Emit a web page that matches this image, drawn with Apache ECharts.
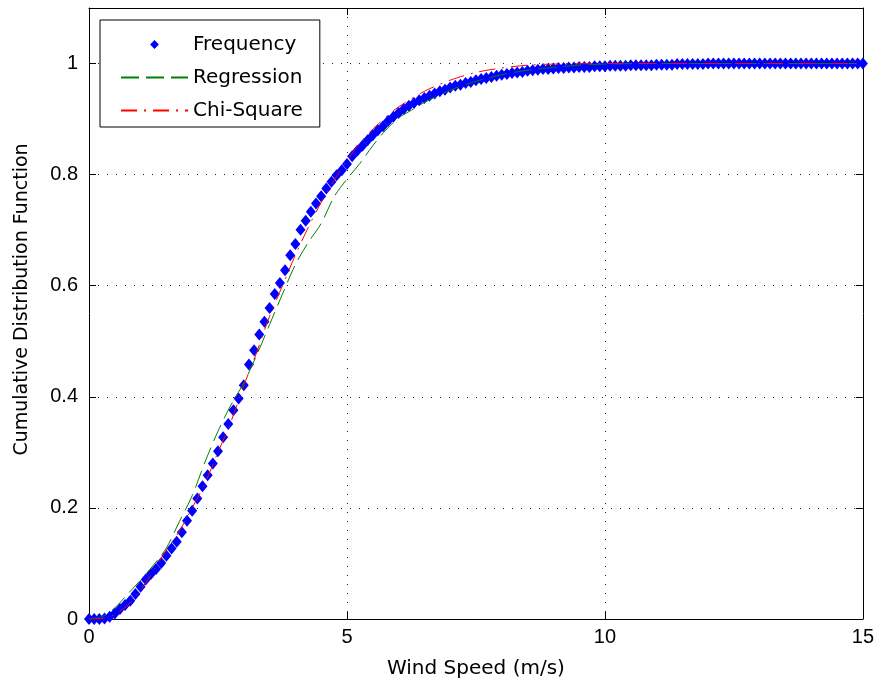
<!DOCTYPE html>
<html>
<head>
<meta charset="utf-8">
<script src="https://cdn.jsdelivr.net/npm/echarts@6/dist/echarts.min.js"></script>
<style>html,body{margin:0;padding:0;background:#fff;}#c{width:877px;height:686px;}</style>
</head>
<body>
<div id="c"></div>
<script>
// Frequency (empirical CDF) — wind speed (m/s)
const freqX = [
0.0,0.1,0.2,0.3,0.4,0.5,0.6,0.7,0.8,0.9,
1.0,1.1,1.2,1.3,1.4,1.5,1.6,1.7,1.8,1.9,
2.0,2.1,2.2,2.3,2.4,2.5,2.6,2.7,2.8,2.9,
3.0,3.1,3.2,3.3,3.4,3.5,3.6,3.7,3.8,3.9,
4.0,4.1,4.2,4.3,4.4,4.5,4.6,4.7,4.8,4.9,
5.0,5.1,5.2,5.3,5.4,5.5,5.6,5.7,5.8,5.9,
6.0,6.1,6.2,6.3,6.4,6.5,6.6,6.7,6.8,6.9,
7.0,7.1,7.2,7.3,7.4,7.5,7.6,7.7,7.8,7.9,
8.0,8.1,8.2,8.3,8.4,8.5,8.6,8.7,8.8,8.9,
9.0,9.1,9.2,9.3,9.4,9.5,9.6,9.7,9.8,9.9,
10.0,10.1,10.2,10.3,10.4,10.5,10.6,10.7,10.8,10.9,
11.0,11.1,11.2,11.3,11.4,11.5,11.6,11.7,11.8,11.9,
12.0,12.1,12.2,12.3,12.4,12.5,12.6,12.7,12.8,12.9,
13.0,13.1,13.2,13.3,13.4,13.5,13.6,13.7,13.8,13.9,
14.0,14.1,14.2,14.3,14.4,14.5,14.6,14.7,14.8,14.9,
15.0];
const freqY = [
0,0,0,0.001,0.004,0.010,0.018,0.025,0.033,0.045,
0.058,0.071,0.081,0.090,0.101,0.114,0.127,0.139,0.156,0.177,
0.195,0.217,0.239,0.259,0.280,0.302,0.327,0.351,0.376,0.397,
0.421,0.458,0.484,0.512,0.535,0.560,0.585,0.605,0.628,0.655,
0.675,0.701,0.717,0.733,0.748,0.761,0.775,0.787,0.799,0.808,
0.819,0.833,0.843,0.852,0.862,0.871,0.880,0.887,0.897,0.904,
0.911,0.918,0.924,0.929,0.934,0.938,0.942,0.946,0.950,0.953,
0.957,0.960,0.962,0.965,0.967,0.970,0.972,0.974,0.976,0.978,
0.980,0.981,0.983,0.984,0.985,0.987,0.988,0.989,0.990,0.990,
0.991,0.992,0.992,0.993,0.993,0.994,0.994,0.994,0.995,0.995,
0.995,0.996,0.996,0.996,0.996,0.997,0.997,0.997,0.997,0.997,
0.998,0.998,0.998,0.998,0.999,0.999,0.999,0.999,0.999,0.999,
1.0,1.0,1.0,1.0,1.0,1.0,1.0,1.0,1.0,1.0,
1.0,1.0,1.0,1.0,1.0,1.0,1.0,1.0,1.0,1.0,
1.0,1.0,1.0,1.0,1.0,1.0,1.0,1.0,1.0,1.0,
1.0];

// Regression fit (green dashed)
const regX = [0,0.25,0.5,0.75,1.0,1.25,1.5,1.75,2.0,2.25,2.5,2.75,3.0,3.25,3.5,3.75,4.0,4.25,4.5,4.75,5.0,5.25,5.5,5.75,6.0,6.25,6.5,7.0,7.5,8.0,8.5,9.0,9.5,10,11,12,13,14,15];
const regY = [0,0.004,0.020,0.045,0.070,0.097,0.128,0.175,0.222,0.283,0.338,0.385,0.425,0.475,0.530,0.585,0.638,0.678,0.712,0.760,0.792,0.820,0.852,0.880,0.902,0.916,0.930,0.952,0.968,0.980,0.988,0.993,0.997,0.999,1.0,1.0,1.0,1.0,1.0];

// Chi-Square fit (red dash-dot)
const chiX = [0,0.25,0.5,0.75,1.0,1.25,1.5,1.75,2.0,2.25,2.5,2.75,3.0,3.25,3.5,3.75,4.0,4.25,4.5,4.75,5.0,5.25,5.5,5.75,6.0,6.5,7.0,7.5,8.0,8.5,9.0,10,11,12,13,14,15];
const chiY = [0,0.001,0.008,0.025,0.052,0.087,0.124,0.158,0.200,0.245,0.300,0.355,0.420,0.480,0.545,0.600,0.655,0.705,0.750,0.790,0.825,0.857,0.882,0.903,0.922,0.950,0.970,0.984,0.992,0.997,0.999,1.0,1.0,1.0,1.0,1.0,1.0];

const xTicks = [0, 5, 10, 15];
const yTicks = [0, 0.2, 0.4, 0.6, 0.8, 1];

const FONT = 'DejaVu Sans';
const TICKFONT = 'Liberation Sans';
const zip = (a, b) => a.map((v, i) => [v, b[i]]);

const chart = echarts.init(document.getElementById('c'), null, {renderer: 'canvas'});
const dotted = {color: '#222', width: 1, type: [1, 8]};
const baseX = {
  type: 'value', min: xTicks[0], max: xTicks[xTicks.length - 1], interval: 5,
  axisLine: {show: true, onZero: false, lineStyle: {color: '#000', width: 1}},
  axisTick: {show: true, inside: true, length: 7, lineStyle: {color: '#000'}},
};
const baseY = {
  type: 'value', min: 0, max: 1.1, interval: 0.2,
  axisLine: {show: true, onZero: false, lineStyle: {color: '#000', width: 1}},
  axisTick: {show: true, inside: true, length: 7, lineStyle: {color: '#000'}},
};
chart.setOption({
  animation: false,
  backgroundColor: '#fff',
  grid: {left: 89, right: 13, top: 8, bottom: 67, containLabel: false},
  xAxis: [
    Object.assign({}, baseX, {
      position: 'bottom',
      name: 'Wind Speed (m/s)', nameLocation: 'middle', nameGap: 40,
      nameTextStyle: {fontFamily: FONT, fontSize: 20, color: '#000'},
      axisLabel: {fontFamily: TICKFONT, fontSize: 20, color: '#000', margin: 8},
      splitLine: {show: true, lineStyle: dotted}
    }),
    Object.assign({}, baseX, {
      position: 'top', axisLabel: {show: false}, splitLine: {show: false}
    })
  ],
  yAxis: [
    Object.assign({}, baseY, {
      position: 'left',
      name: 'Cumulative Distribution Function', nameLocation: 'middle', nameGap: 57, nameRotate: 90,
      nameTextStyle: {fontFamily: FONT, fontSize: 19, color: '#000', padding: [0, 0, 0, 28]},
      axisLabel: {fontFamily: TICKFONT, fontSize: 20, color: '#000', margin: 11, showMaxLabel: false,
        formatter: v => (yTicks.indexOf(Math.round(v * 10) / 10) >= 0 ? String(Math.round(v * 10) / 10) : '')},
      splitLine: {show: true, lineStyle: dotted}
    }),
    Object.assign({}, baseY, {
      position: 'right', axisLabel: {show: false}, splitLine: {show: false}
    })
  ],
  legend: {
    orient: 'vertical', left: 100, top: 20,
    backgroundColor: '#fff', borderColor: '#000', borderWidth: 1,
    padding: [14, 17, 6, 20],
    itemWidth: 67, itemHeight: 11, itemGap: 12,
    textStyle: {fontFamily: FONT, fontSize: 20, color: '#000', lineHeight: 21},
    data: [
      {name: 'Frequency', lineStyle: {opacity: 0}},
      {name: 'Regression', itemStyle: {opacity: 0}},
      {name: 'Chi-Square', itemStyle: {opacity: 0}}
    ]
  },
  series: [
    {
      name: 'Frequency', type: 'line', data: zip(freqX, freqY),
      symbol: 'diamond', symbolSize: [10, 12], showSymbol: true, showAllSymbol: true,
      itemStyle: {color: '#0000ff'},
      lineStyle: {opacity: 0, width: 0, color: '#0000ff'},
      z: 2
    },
    {
      name: 'Regression', type: 'line', data: zip(regX, regY), smooth: 0.3,
      symbol: 'none', itemStyle: {color: '#008000'},
      lineStyle: {color: '#008000', width: 1, type: [18, 7]},
      z: 3
    },
    {
      name: 'Chi-Square', type: 'line', data: zip(chiX, chiY), smooth: 0.3,
      symbol: 'none', itemStyle: {color: '#ff0000'},
      lineStyle: {color: '#ff0000', width: 1, type: [16, 7, 2, 7]},
      z: 4
    }
  ]
});
</script>
</body>
</html>
